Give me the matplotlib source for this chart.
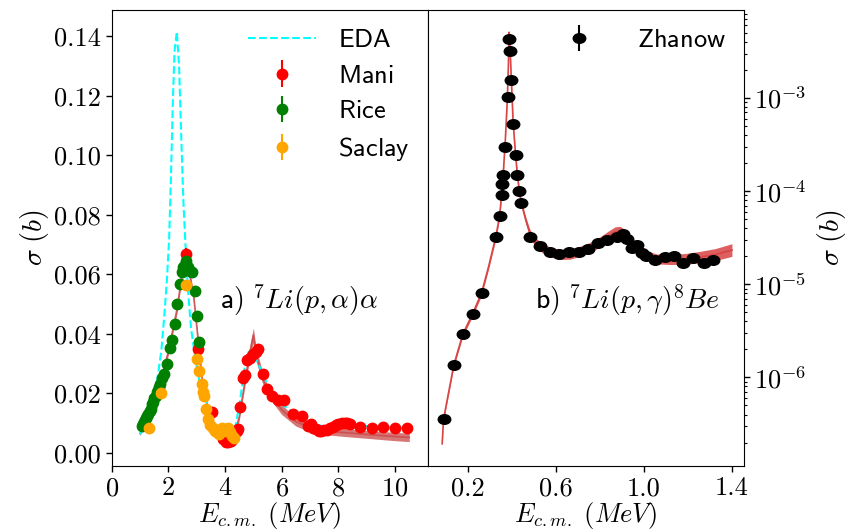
import numpy as np
import matplotlib
matplotlib.use("Agg")
import matplotlib.pyplot as plt
from matplotlib.ticker import FixedLocator
from matplotlib.path import Path
from matplotlib.transforms import Affine2D

plt.rcParams["mathtext.fontset"] = "cm"
plt.rcParams["font.family"] = "cmr10"
plt.rcParams["axes.formatter.use_mathtext"] = True

# ---------------- 7Li(p,alpha)alpha ----------------
eda_x = [1.0, 1.2, 1.4, 1.6, 1.75, 1.85, 1.95, 2.03, 2.1, 2.16, 2.22, 2.3, 2.38, 2.45,
         2.53, 2.6, 2.7, 2.8, 2.95, 3.1, 3.35, 3.53, 3.7, 3.9, 4.05, 4.2, 4.35, 4.53,
         4.71, 4.82, 4.95, 5.23, 5.59, 5.94, 6.5, 7.0, 7.5, 7.8, 8.1, 8.5, 9.0, 10.0, 10.5]
eda_y = [0.0063, 0.009, 0.014, 0.024, 0.034, 0.045, 0.058, 0.072, 0.095, 0.118, 0.135,
         0.1415, 0.130, 0.108, 0.085, 0.071, 0.054, 0.042, 0.032, 0.024, 0.0175, 0.0108,
         0.0075, 0.005, 0.004, 0.0045, 0.008, 0.0175, 0.030, 0.0338, 0.0345, 0.0287,
         0.0209, 0.0169, 0.0128, 0.0102, 0.0088, 0.0092, 0.0102, 0.0095, 0.009, 0.0085,
         0.0082]

fit_a_x = [1.0, 1.4, 1.7, 2.0, 2.3, 2.5, 2.62, 2.75, 2.9, 3.05, 3.2, 3.4, 3.6, 3.8, 4.0,
           4.15, 4.3, 4.5, 4.7, 4.9, 5.0, 5.1, 5.3, 5.5, 6.0, 6.5, 7.0, 7.5, 8.0, 9.0,
           10.0, 10.5]
fit_a_y = [0.0065, 0.0155, 0.023, 0.034, 0.048, 0.061, 0.068, 0.060, 0.052, 0.038, 0.024,
           0.0145, 0.0085, 0.006, 0.0045, 0.004, 0.0055, 0.012, 0.024, 0.035, 0.0395,
           0.033, 0.026, 0.021, 0.0145, 0.0105, 0.0085, 0.0075, 0.0070, 0.0062, 0.0055,
           0.0052]
fit_a_hw = [0.0008, 0.001, 0.001, 0.0012, 0.0014, 0.0015, 0.0016, 0.0015, 0.0014, 0.0013,
            0.0012, 0.001, 0.0009, 0.0008, 0.0008, 0.0008, 0.0009, 0.0012, 0.0018, 0.0022,
            0.0025, 0.0022, 0.002, 0.0018, 0.0016, 0.0015, 0.0014, 0.0013, 0.0013, 0.0013,
            0.0014, 0.0014]

mani_x = [2.62, 3.06, 3.55, 3.94, 4.05, 4.12, 4.22, 4.41, 4.47, 4.53, 4.65, 4.71, 4.78,
          4.88, 5.0, 5.1, 5.18, 5.35, 5.49, 5.65, 5.88, 6.07, 6.41, 6.73, 6.94, 7.02, 7.12,
          7.2, 7.3, 7.4, 7.5, 7.6, 7.7, 7.8, 7.9, 8.0, 8.12, 8.22, 8.32, 8.42, 8.76, 9.17,
          9.58, 10.0, 10.41]
mani_y = [0.0669, 0.0349, 0.0136, 0.0046, 0.0038, 0.0035, 0.0040, 0.0074, 0.0080, 0.0155,
          0.0253, 0.0262, 0.0312, 0.0319, 0.0332, 0.0340, 0.0349, 0.0265, 0.0214, 0.0192,
          0.0177, 0.0177, 0.0130, 0.0125, 0.0090, 0.0097, 0.0085, 0.0080, 0.0075, 0.0074,
          0.0076, 0.0077, 0.0082, 0.0088, 0.0095, 0.0098, 0.0102, 0.0100, 0.0099, 0.0097,
          0.0088, 0.0082, 0.0088, 0.0085, 0.0082]

rice_x = [1.06, 1.10, 1.14, 1.18, 1.22, 1.26, 1.30, 1.35, 1.39, 1.43, 1.47, 1.51, 1.55,
          1.60, 1.64, 1.68, 1.72, 1.78, 1.85, 1.94, 2.06, 2.14, 2.24, 2.32, 2.41, 2.47,
          2.53, 2.58, 2.62, 2.66, 2.71, 2.77, 2.83, 2.94, 3.0, 3.08]
rice_y = [0.0091, 0.0098, 0.0103, 0.0111, 0.0116, 0.0125, 0.0130, 0.0141, 0.0149, 0.0163,
          0.0170, 0.0183, 0.0190, 0.0204, 0.0211, 0.0223, 0.0231, 0.0250, 0.0265, 0.0299,
          0.0354, 0.0380, 0.0433, 0.0500, 0.0568, 0.0607, 0.0624, 0.0630, 0.0646, 0.0620,
          0.0624, 0.0612, 0.0607, 0.0545, 0.0461, 0.0371]

saclay_x = [1.33, 1.74, 2.62, 3.0, 3.1, 3.18, 3.24, 3.27, 3.34, 3.41, 3.48, 3.56, 3.65,
            3.72, 3.8, 3.88, 3.94, 4.02, 4.1, 4.16, 4.24, 4.3]
saclay_y = [0.0085, 0.0200, 0.0564, 0.0315, 0.0276, 0.0230, 0.0205, 0.0190, 0.0147,
            0.0115, 0.0095, 0.0085, 0.0074, 0.0070, 0.0065, 0.0085, 0.0080, 0.0075,
            0.0082, 0.0070, 0.0057, 0.0050]

# ---------------- 7Li(p,gamma)8Be ----------------
fit_b_x = [0.0817, 0.088, 0.135, 0.176, 0.220, 0.261, 0.293, 0.325, 0.343, 0.354, 0.362,
           0.369, 0.378, 0.383, 0.3866, 0.391, 0.3966, 0.4048, 0.4157, 0.4239, 0.433,
           0.442, 0.4626, 0.481, 0.5035, 0.531, 0.572, 0.617, 0.663, 0.708, 0.754, 0.799,
           0.836, 0.868, 0.890, 0.913, 0.945, 0.981, 1.018, 1.059, 1.118, 1.187, 1.255,
           1.323, 1.400]
fit_b_y = [1.94e-7, 3.57e-7, 1.37e-6, 2.93e-6, 4.81e-6, 8.09e-6, 1.55e-5, 3.18e-5, 5.38e-5,
           1.02e-4, 1.89e-4, 3.51e-4, 9.44e-4, 2.25e-3, 5.08e-3, 3.26e-3, 1.55e-3, 5.35e-4,
           2.48e-4, 1.48e-4, 9.93e-5, 7.38e-5, 4.84e-5, 3.51e-5, 2.88e-5, 2.51e-5, 2.22e-5,
           2.09e-5, 2.11e-5, 2.25e-5, 2.48e-5, 2.84e-5, 3.26e-5, 3.64e-5, 3.69e-5, 3.42e-5,
           2.80e-5, 2.30e-5, 2.01e-5, 1.87e-5, 1.85e-5, 1.87e-5, 1.96e-5, 2.08e-5, 2.33e-5]
# half width of the fit band, in decades
fit_b_hw = [0.016, 0.018, 0.022, 0.024, 0.026, 0.028, 0.028, 0.027, 0.024, 0.021, 0.019,
            0.017, 0.016, 0.016, 0.016, 0.016, 0.016, 0.018, 0.02, 0.023, 0.026, 0.03,
            0.036, 0.042, 0.047, 0.05, 0.053, 0.054, 0.055, 0.055, 0.055, 0.055, 0.055,
            0.055, 0.055, 0.055, 0.054, 0.052, 0.052, 0.053, 0.055, 0.058, 0.061, 0.064,
            0.068]

zhanow_x = [0.088, 0.135, 0.176, 0.220, 0.261, 0.325, 0.343, 0.354, 0.354, 0.359, 0.368,
            0.379, 0.386, 0.390, 0.395, 0.404, 0.416, 0.422, 0.432, 0.441, 0.481, 0.529,
            0.572, 0.615, 0.661, 0.703, 0.747, 0.789, 0.833, 0.875, 0.904, 0.922, 0.947,
            0.966, 0.989, 1.007, 1.051, 1.094, 1.137, 1.178, 1.224, 1.271, 1.312]
zhanow_y = [3.57e-7, 1.37e-6, 2.93e-6, 4.81e-6, 8.09e-6, 3.18e-5, 5.38e-5, 9.10e-5,
            1.19e-4, 1.50e-4, 2.99e-4, 1.03e-3, 4.25e-3, 3.22e-3, 1.57e-3, 5.28e-4,
            2.44e-4, 1.50e-4, 1.00e-4, 7.46e-5, 3.19e-5, 2.56e-5, 2.21e-5, 2.10e-5,
            2.21e-5, 2.21e-5, 2.39e-5, 2.77e-5, 3.00e-5, 3.25e-5, 3.46e-5, 3.03e-5,
            2.48e-5, 2.61e-5, 2.18e-5, 2.00e-5, 1.83e-5, 1.95e-5, 1.99e-5, 1.70e-5,
            1.91e-5, 1.70e-5, 1.80e-5]

REL_ERR = 0.03

left_xticks = [0, 2, 4, 6, 8, 10]
left_yticks = [0.00, 0.02, 0.04, 0.06, 0.08, 0.10, 0.12, 0.14]
right_xticks = [0.2, 0.6, 1.0, 1.4]

band_a_color = "#c94848"
band_b_color = "#d84343"

# slightly wide oval marker for the capture data
oval = Path.unit_circle().transformed(Affine2D().scale(1.3, 1.0))

fig = plt.figure(figsize=(8.5, 5.31), dpi=100)
ax1 = fig.add_axes([0.1313, 0.1224, 0.3719, 0.8588])
ax2 = fig.add_axes([0.5032, 0.1224, 0.3721, 0.8588])

# left panel
fa_x = np.array(fit_a_x)
fa_y = np.array(fit_a_y)
fa_hw = np.array(fit_a_hw)
ax1.fill_between(fa_x, fa_y - fa_hw, fa_y + fa_hw, color=band_a_color, alpha=0.75, lw=0)
ax1.plot(fa_x, fa_y, color=band_a_color, lw=1.2, alpha=0.8)
ax1.plot(eda_x, eda_y, ls="--", color="cyan", lw=1.5, label=r"$\mathsf{EDA}$")
mk = dict(fmt="o", ms=7.5, elinewidth=1.5, capsize=0)
ax1.errorbar(mani_x, mani_y, yerr=REL_ERR * np.array(mani_y), color="red",
             label=r"$\mathsf{Mani}$", **mk)
ax1.errorbar(rice_x, rice_y, yerr=REL_ERR * np.array(rice_y), color="green",
             label=r"$\mathsf{Rice}$", **mk)
ax1.errorbar(saclay_x, saclay_y, yerr=REL_ERR * np.array(saclay_y), color="orange",
             label=r"$\mathsf{Saclay}$", **mk)
ax1.set_xlim(0, 11.15)
ax1.set_ylim(-0.0044, 0.1488)
ax1.set_xticks(left_xticks)
ax1.set_yticks(left_yticks)
ax1.set_yticklabels([f"{v:.2f}" for v in left_yticks])
ax1.set_xlabel(r"$E_{c.m.}\ (MeV)$", fontsize=19, labelpad=0)
ax1.set_ylabel(r"$\sigma\ (b)$", fontsize=20, labelpad=2)
ax1.text(0.343, 0.345, r"$\mathsf{a)}\ {}^{7}Li(p,\alpha)\alpha$", transform=ax1.transAxes,
         fontsize=20)
ax1.legend(loc="upper right", frameon=False, fontsize=19, handlelength=2.6,
           labelspacing=0.45, borderaxespad=0.3, handletextpad=0.8)

# right panel
fb_x = np.array(fit_b_x)
fb_y = np.array(fit_b_y)
fb_hw = np.array(fit_b_hw)
ax2.fill_between(fb_x, fb_y / 10 ** fb_hw, fb_y * 10 ** fb_hw, color=band_b_color,
                 alpha=0.85, lw=0)
ax2.plot(fb_x, fb_y, color=band_b_color, lw=1.2)
ax2.errorbar(zhanow_x, zhanow_y, yerr=REL_ERR * np.array(zhanow_y), color="black",
             label=r"$\mathsf{Zhanow}$", fmt="o", marker=oval, ms=9, elinewidth=1.5,
             capsize=0)
ax2.set_yscale("log")
ax2.set_xlim(0.016, 1.455)
ax2.set_ylim(1.12e-7, 8.8e-3)
ax2.xaxis.set_major_locator(FixedLocator(right_xticks))
ax2.set_xticklabels([f"{v:.1f}" for v in right_xticks])
ax2.yaxis.tick_right()
ax2.yaxis.set_label_position("right")
ax2.set_xlabel(r"$E_{c.m.}\ (MeV)$", fontsize=19, labelpad=0)
ax2.set_ylabel(r"$\sigma\ (b)$", fontsize=20, labelpad=6)
ax2.text(0.339, 0.345, r"$\mathsf{b)}\ {}^{7}Li(p,\gamma)^{8}Be$", transform=ax2.transAxes,
         fontsize=20)
ax2.legend(loc="upper right", frameon=False, fontsize=19, borderaxespad=0.3,
           handletextpad=1.2)

for ax in (ax1, ax2):
    ax.tick_params(labelsize=19, length=4, width=1)
    ax.tick_params(which="minor", length=2.2, width=0.8)

fig.savefig("out.png", dpi=100)
